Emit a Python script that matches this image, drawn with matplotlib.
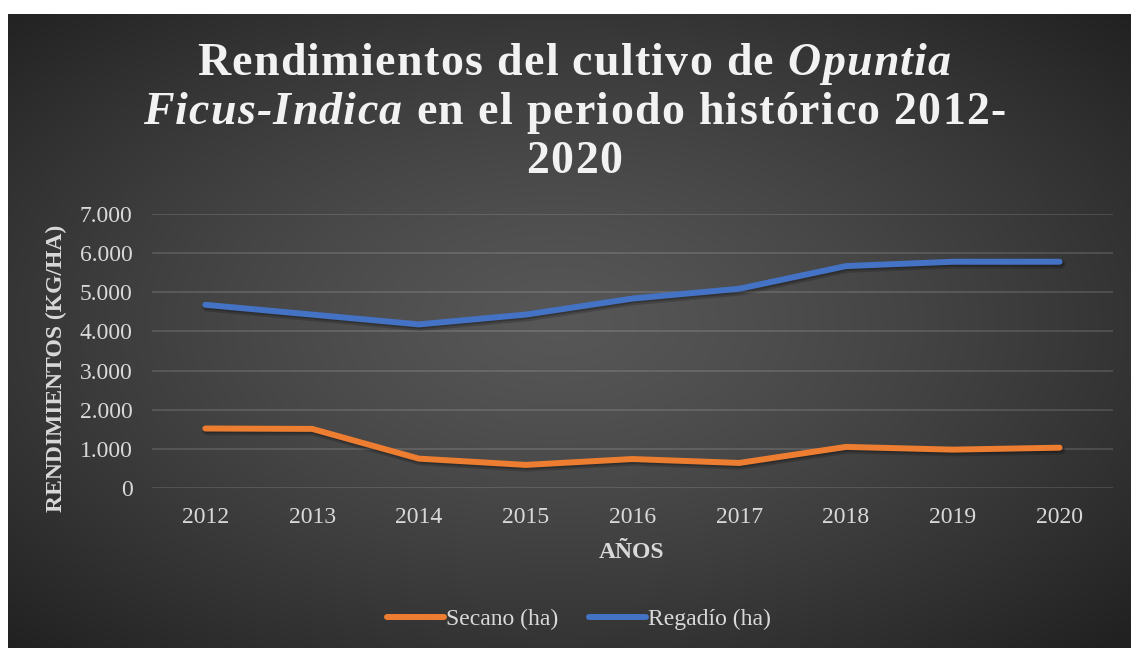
"""Rendimientos del cultivo de Opuntia Ficus-Indica, 2012-2020."""

import matplotlib

matplotlib.use("Agg")
import matplotlib.patheffects as pe  # noqa: E402
import matplotlib.pyplot as plt  # noqa: E402
import numpy as np  # noqa: E402

years = ["2012", "2013", "2014", "2015", "2016", "2017", "2018", "2019", "2020"]
secano = [1520, 1510, 750, 590, 740, 640, 1050, 980, 1030]
regadio = [4680, 4430, 4180, 4430, 4840, 5090, 5670, 5780, 5780]
y_ticks = [0, 1000, 2000, 3000, 4000, 5000, 6000, 7000]
y_tick_labels = ["0", "1.000", "2.000", "3.000", "4.000", "5.000", "6.000", "7.000"]

title_lines = [
    [("Rendimientos del cultivo de ", "normal"), ("Opuntia", "italic")],
    [("Ficus-Indica", "italic"), (" en el periodo histórico 2012-", "normal")],
    [("2020", "normal")],
]

SERIF = "Liberation Serif"
TXT = "#d9d9d9"
W, H = 1131, 648

fig = plt.figure(figsize=(W / 100, H / 100), dpi=100, facecolor="white")

# radial gradient background
bg = fig.add_axes([8 / W, 0, 1 - 8 / W, (H - 14) / H])
gx, gy = np.meshgrid(np.linspace(-1, 1, 600), np.linspace(-1, 1, 340))
r = np.sqrt((gx + 0.02) ** 2 + (gy + 0.02) ** 2) / np.sqrt(2)
shade = 0.34 - 0.21 * np.clip(r, 0, 1) ** 1.3
bg.imshow(np.dstack([shade] * 3), aspect="auto", extent=(0, 1, 0, 1), interpolation="bilinear")
bg.set_axis_off()

ax = fig.add_axes([152 / W, (H - 488) / H, 961 / W, 274 / H])
ax.set_facecolor("none")
x = np.arange(len(years))
shadow = [
    pe.SimpleLineShadow(offset=(1.0, -1.6), shadow_color="black", alpha=0.18, linewidth=6.5),
    pe.SimpleLineShadow(offset=(0.8, -1.2), shadow_color="black", alpha=0.22),
    pe.Normal(),
]
ax.plot(x, secano, color="#ED7D31", lw=4.3, solid_capstyle="round", solid_joinstyle="round",
        path_effects=shadow, label="Secano (ha)", zorder=3)
ax.plot(x, regadio, color="#4472C4", lw=4.3, solid_capstyle="round", solid_joinstyle="round",
        path_effects=shadow, label="Regadío (ha)", zorder=3)

ax.set_xlim(-0.5, len(years) - 0.5)
ax.set_ylim(0, 7000)
ax.set_yticks(y_ticks)
ax.set_yticklabels(y_tick_labels)
ax.set_xticks(x)
ax.set_xticklabels(years)
ax.tick_params(length=0, labelsize=17, colors=TXT)
ax.tick_params(axis="y", pad=14)
ax.tick_params(axis="x", pad=14)
for lab in ax.get_xticklabels() + ax.get_yticklabels():
    lab.set_fontfamily(SERIF)
ax.grid(axis="y", color="white", alpha=0.15, lw=1.2)
ax.set_axisbelow(True)
for s in ax.spines.values():
    s.set_visible(False)

fig.text(56 / W, 1 - 368 / H, "RENDIMIENTOS (KG/HA)", rotation=90, ha="center", va="center",
         family=SERIF, weight="bold", size=17, color=TXT)
fig.text(632 / W, 1 - 552 / H, "AÑOS", ha="center", va="center",
         family=SERIF, weight="bold", size=17, color=TXT)

# title: bold serif with a little letter spacing, italic pieces, centred per line
renderer = fig.canvas.get_renderer()
TRACK = 1.3  # extra px between letters
baselines = [75, 124, 173]


def text_width(s, style):
    t = fig.text(0, 0, s, family=SERIF, weight="bold", style=style, size=33)
    w = t.get_window_extent(renderer).width
    t.remove()
    return w


for pieces, base in zip(title_lines, baselines):
    glyphs = []
    for s, style in pieces:
        space_w = text_width("x x", style) - text_width("xx", style)
        for ch in s:
            w = space_w if ch == " " else text_width(ch, style)
            glyphs.append((ch, style, w))
    total = sum(w for _, _, w in glyphs) + TRACK * (len(glyphs) - 1)
    left = 574 - total / 2
    for ch, style, w in glyphs:
        if ch != " ":
            fig.text(left / W, 1 - base / H, ch, family=SERIF, weight="bold", style=style,
                     size=33, color="#f2f2f2", ha="left", va="baseline")
        left += w + TRACK

leg = fig.legend(loc="center", bbox_to_anchor=(579 / W, 1 - 619 / H), ncol=2, frameon=False,
                 prop={"family": SERIF, "size": 17}, handlelength=2.4, handletextpad=0.1,
                 columnspacing=1.3)
for t in leg.get_texts():
    t.set_color(TXT)
for h in leg.get_lines():
    h.set_path_effects([])
    h.set_linewidth(4.3)

fig.savefig("out.png", dpi=100, facecolor="white")
